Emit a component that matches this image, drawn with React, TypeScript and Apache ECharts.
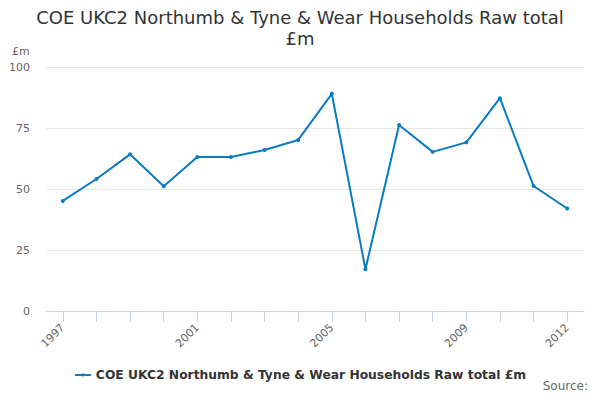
import React, { useEffect, useRef } from "react";
import * as echarts from "echarts";

const years = ["1997","1998","1999","2000","2001","2002","2003","2004","2005","2006","2007","2008","2009","2010","2011","2012"];
const values = [45.4, 54.4, 64.5, 51.4, 63.4, 63.4, 66.3, 70.4, 89.3, 17.4, 76.5, 65.5, 69.4, 87.5, 51.5, 42.3];
const shownLabels = ["1997", "2001", "2005", "2009", "2012"];
const seriesName = "COE UKC2 Northumb & Tyne & Wear Households Raw total £m";
const titleText = "COE UKC2 Northumb & Tyne & Wear Households Raw total\n£m";

const FONT = "DejaVu Sans, sans-serif";

export default function App() {
  const ref = useRef<HTMLDivElement>(null);
  useEffect(() => {
    if (!ref.current) return;
    const chart = echarts.init(ref.current, null, { renderer: "svg" });
    chart.setOption({
      animation: false,
      backgroundColor: "#ffffff",
      title: {
        text: titleText,
        left: "center",
        top: 2,
        textStyle: { fontFamily: FONT, fontSize: 18, fontWeight: "normal", color: "#333333", lineHeight: 21 },
      },
      grid: { left: 46, right: 16, top: 67.7, bottom: 88.3, containLabel: false },
      legend: {
        bottom: 14,
        left: "center",
        data: [seriesName],
        itemWidth: 16,
        itemHeight: 4,
        textStyle: { fontFamily: FONT, fontSize: 12.3, fontWeight: "bold", color: "#333333" },
      },
      graphic: [
        { type: "text", left: 12, top: 46, style: { text: "£m", fontFamily: FONT, fontSize: 11, fill: "#666666" } },
        { type: "text", right: 12, top: 380, style: { text: "Source:", fontFamily: FONT, fontSize: 12, lineHeight: 12, fill: "#666666" } },
      ],
      xAxis: {
        type: "category",
        data: years,
        boundaryGap: true,
        axisLine: { lineStyle: { color: "#ccd6eb", width: 1 } },
        axisTick: { show: true, alignWithLabel: true, interval: 0, length: 10, lineStyle: { color: "#c4cfe6", width: 1 } },
        axisLabel: {
          interval: (i: number, v: string) => shownLabels.includes(v),
          rotate: 45,
          margin: 14,
          fontFamily: FONT,
          fontSize: 11,
          color: "#666666",
        },
        splitLine: { show: false },
      },
      yAxis: {
        type: "value",
        min: 0,
        max: 100,
        interval: 25,
        axisLine: { show: false },
        axisTick: { show: false },
        axisLabel: { margin: 16, fontFamily: FONT, fontSize: 11, color: "#666666" },
        splitLine: { lineStyle: { color: "#e6e6e6", width: 1 } },
      },
      series: [
        {
          name: seriesName,
          type: "line",
          data: values,
          symbol: "circle",
          symbolSize: 4,
          lineStyle: { color: "#0a7bc1", width: 2 },
          itemStyle: { color: "#0a7bc1" },
        },
      ],
    });
    return () => chart.dispose();
  }, []);
  return <div ref={ref} style={{ width: 600, height: 400, margin: -8 }} />;
}
